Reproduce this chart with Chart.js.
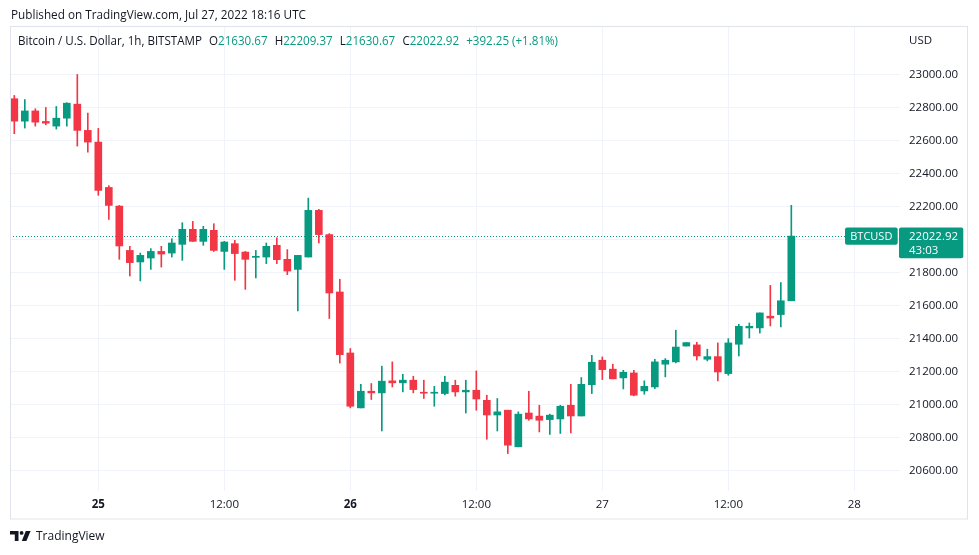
<!DOCTYPE html>
<html>
<head>
<meta charset="utf-8">
<script src="https://cdn.jsdelivr.net/npm/chart.js@4"></script>
<style>
  html, body { margin: 0; padding: 0; background: #fff; }
  #wrap { position: relative; width: 979px; height: 555px; overflow: hidden;
          font-family: 'Open Sans', sans-serif; color: #131722; }
  canvas { position: absolute; left: 0; top: 0; }
  .txt { position: absolute; font-size: 13px; line-height: 13px; white-space: nowrap; transform-origin: 0 0; }
  .val { color: #089981; }
  .gap { margin-left: 8px; }
</style>
</head>
<body>
<div id="wrap">
  <canvas id="chart" width="979" height="555"></canvas>
  <div class="txt fit" data-w="295" style="left:10.7px;top:7.7px">Published on TradingView.com, Jul 27, 2022 18:16 UTC</div>
  <div class="txt fit" data-w="540" style="left:18.3px;top:34.4px" id="legend"></div>
  <svg style="position:absolute;left:10px;top:531px" width="21" height="10" viewBox="0 0 21 10">
    <path d="M0 0H8.5V10H4.8V3.6H0Z" fill="#131722"/>
    <circle cx="11.6" cy="1.9" r="1.9" fill="#131722"/>
    <path d="M15.8 0H20.6L16.4 10H11.8Z" fill="#131722"/>
  </svg>
  <div class="txt fit" data-w="68.6" style="left:35.7px;top:529.2px">TradingView</div>
</div>

<script>
// BTCUSD 1h, BITSTAMP, from Jul 24 16:00 UTC (index 0) to Jul 27 18:00 UTC (index 74)
const opens = [
  22856, 22720, 22782, 22718, 22690, 22738, 22823, 22664, 22593, 22318,
  22205, 21936, 21866, 21890, 21930, 21920, 21973, 22064, 21991, 22058,
  21930, 21977, 21926, 21894, 21896, 21967, 21882, 21821, 21896, 22179,
  22032, 21684, 21314, 20981, 21082, 21072, 21145, 21133, 21149, 21076,
  21070, 21068, 21118, 21078, 21088, 21027, 20938, 20967, 20745, 20950,
  20931, 20910, 20914, 20997, 20932, 21122, 21270, 21216, 21163, 21193,
  21084, 21108, 21246, 21260, 21356, 21363, 21276, 21292, 21189, 21367,
  21466, 21466, 21537, 21547, 21630.67
];
const highs = [
  22876, 22851, 22795, 22803, 22809, 22832, 23003, 22769, 22676, 22329,
  22209, 21961, 21920, 21947, 21961, 22007, 22104, 22112, 22082, 22098,
  21991, 21997, 21930, 21936, 21981, 22013, 21941, 21906, 22253, 22185,
  22038, 21761, 21341, 21124, 21129, 21234, 21260, 21185, 21173, 21149,
  21112, 21173, 21149, 21149, 21205, 21058, 21038, 20967, 20957, 21082,
  20997, 20943, 20997, 21124, 21165, 21300, 21290, 21246, 21209, 21209,
  21145, 21276, 21280, 21452, 21377, 21379, 21337, 21375, 21401, 21488,
  21496, 21557, 21724, 21741, 22209.37
];
const lows = [
  22644, 22678, 22690, 22698, 22672, 22690, 22569, 22532, 22270, 22124,
  21882, 21781, 21751, 21821, 21835, 21896, 21876, 21991, 21967, 21930,
  21821, 21755, 21700, 21769, 21856, 21856, 21789, 21569, 21896, 21981,
  21523, 21253, 20981, 20981, 21032, 20841, 21108, 21078, 21072, 21038,
  20991, 21060, 21052, 20950, 20967, 20791, 20841, 20704, 20745, 20906,
  20835, 20820, 20826, 20829, 20932, 21068, 21153, 21157, 21096, 21054,
  21064, 21098, 21169, 21254, 21356, 21271, 21266, 21145, 21179, 21296,
  21405, 21435, 21478, 21472, 21630.67
];
const closes = [
  22720, 22782, 22714, 22708, 22738, 22829, 22664, 22593, 22300, 22209,
  21963, 21862, 21906, 21930, 21914, 21981, 22064, 21991, 22064, 21936,
  21987, 21917, 21882, 21898, 21961, 21880, 21811, 21906, 22179, 22032,
  21678, 21304, 20991, 21082, 21072, 21143, 21133, 21149, 21092, 21070,
  21076, 21137, 21078, 21088, 21035, 20938, 20957, 20755, 20943, 20914,
  20906, 20937, 20991, 20932, 21124, 21258, 21213, 21157, 21197, 21058,
  21112, 21260, 21270, 21350, 21377, 21296, 21292, 21199, 21375, 21476,
  21476, 21557, 21526, 21630.67, 22022.92
];

const yTicks = [20600, 20800, 21000, 21200, 21400, 21600, 21800, 22000, 22200, 22400, 22600, 22800, 23000];
const xTickPos = [8, 20, 32, 44, 56, 68, 80];
const xTickLabels = ['25', '12:00', '26', '12:00', '27', '12:00', '28'];
const boldLabels = ['25', '26'];

const UP = '#089981';
const DOWN = '#f23645';
const TEXT = '#131722';
const GRID = '#f0f3fa';

const last = closes.length - 1;
const change = closes[last] - closes[last - 1];
const changePct = change / closes[last - 1] * 100;

// legend line
const legend = document.getElementById('legend');
legend.innerHTML =
  'Bitcoin / U.S. Dollar, 1h, BITSTAMP' +
  '<span class="gap">O</span><span class="val">' + opens[last].toFixed(2) + '</span>' +
  '<span class="gap">H</span><span class="val">' + highs[last].toFixed(2) + '</span>' +
  '<span class="gap">L</span><span class="val">' + lows[last].toFixed(2) + '</span>' +
  '<span class="gap">C</span><span class="val">' + closes[last].toFixed(2) + '</span>' +
  '<span class="gap val">' + (change >= 0 ? '+' : '') + change.toFixed(2) +
  ' (' + (change >= 0 ? '+' : '') + changePct.toFixed(2) + '%)</span>';

function fitTexts() {
  document.querySelectorAll('.fit').forEach(el => {
    el.style.transform = 'none';
    const w = el.getBoundingClientRect().width;
    el.style.transform = 'scaleX(' + (el.dataset.w / w) + ')';
  });
}
fitTexts();
document.fonts.ready.then(fitTexts);

const candleColor = ctx => closes[ctx.dataIndex] >= opens[ctx.dataIndex] ? UP : DOWN;

const bodyData = opens.map((o, i) => ({x: i, y: [o, closes[i]]}));
const wickData = lows.map((l, i) => ({x: i, y: [l, highs[i]]}));

function roundBox(ctx, x, y, w, h, r) {
  ctx.beginPath();
  ctx.roundRect(x, y, w, h, r);
  ctx.fill();
}

const overlay = {
  id: 'overlay',
  beforeDatasetsDraw(chart) {
    const {ctx, chartArea, scales} = chart;
    const py = Math.round(scales.y.getPixelForValue(closes[last])) + 0.5;
    ctx.save();
    ctx.strokeStyle = UP;
    ctx.lineWidth = 1;
    ctx.setLineDash([1, 2]);
    ctx.beginPath();
    ctx.moveTo(chartArea.left, py);
    ctx.lineTo(845, py);
    ctx.stroke();
    ctx.restore();
  },
  afterDraw(chart) {
    const {ctx, scales} = chart;
    const py = scales.y.getPixelForValue(closes[last]);
    ctx.save();
    // frame
    ctx.strokeStyle = '#e0e3eb';
    ctx.lineWidth = 1;
    ctx.strokeRect(10.5, 26.5, 957, 492.5);
    // price labels
    ctx.fillStyle = UP;
    roundBox(ctx, 845, py - 8.7, 52.7, 17.4, 2);
    roundBox(ctx, 899, py - 8.7, 64.3, 30.8, 2);
    ctx.fillStyle = '#ffffff';
    ctx.textBaseline = 'middle';
    ctx.font = '11px "Open Sans"';
    ctx.textAlign = 'center';
    ctx.fillText('BTCUSD', 871.3, py + 0.5);
    ctx.textAlign = 'left';
    ctx.font = '11.5px "Open Sans"';
    ctx.fillText(closes[last].toFixed(2), 909, py + 0.5);
    ctx.fillText('43:03', 909, py + 14.5);
    // currency
    ctx.fillStyle = TEXT;
    ctx.fillText('USD', 909, 40.5);
    ctx.restore();
  }
};

Chart.defaults.font.family = "'Open Sans', sans-serif";

new Chart(document.getElementById('chart'), {
  type: 'bar',
  data: {
    datasets: [
      {
        data: bodyData,
        backgroundColor: candleColor,
        barThickness: 7,
        minBarLength: 1,
        borderWidth: 0
      },
      {
        data: wickData,
        backgroundColor: candleColor,
        barThickness: 1,
        borderWidth: 0
      }
    ]
  },
  options: {
    responsive: false,
    animation: false,
    layout: {padding: {left: 10, top: 27, right: 11, bottom: 36}},
    datasets: {bar: {grouped: false}},
    scales: {
      x: {
        type: 'linear',
        min: -0.41,
        max: 84.35,
        offset: false,
        afterBuildTicks: scale => { scale.ticks = xTickPos.map(v => ({value: v})); },
        afterFit: scale => { scale.height = 28; },
        grid: {color: GRID, drawTicks: false, offset: false},
        border: {display: false},
        ticks: {
          padding: 7,
          color: TEXT,
          maxRotation: 0,
          autoSkip: false,
          font: ctx => ({size: 11.5, weight: boldLabels.includes(ctx.tick && ctx.tick.label) ? 'bold' : 'normal'}),
          callback: v => xTickLabels[xTickPos.indexOf(v)]
        }
      },
      y: {
        type: 'linear',
        position: 'right',
        min: 20477,
        max: 23291,
        afterBuildTicks: scale => { scale.ticks = yTicks.map(v => ({value: v})); },
        afterFit: scale => { scale.width = 68; },
        grid: {color: GRID, drawTicks: false},
        border: {display: false},
        ticks: {
          padding: 9,
          color: TEXT,
          font: {size: 11.5},
          callback: v => v.toFixed(2)
        }
      }
    },
    plugins: {
      legend: {display: false},
      tooltip: {enabled: false}
    }
  },
  plugins: [overlay]
});
</script>
</body>
</html>
